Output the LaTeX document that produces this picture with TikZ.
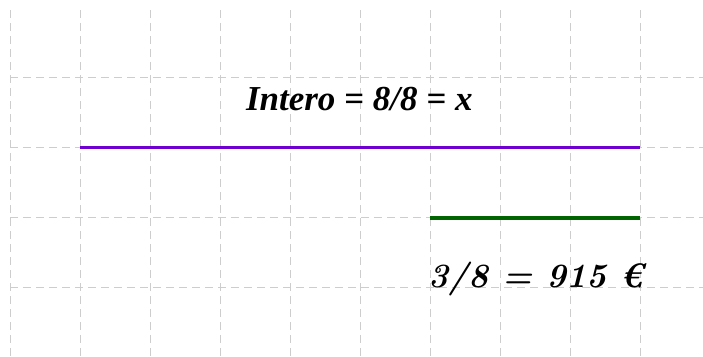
\documentclass[tikz,border=0pt]{standalone}
\usepackage{fontspec}
\newfontfamily\timesfont{Liberation Serif}
\definecolor{gridgray}{RGB}{205,205,205}
\definecolor{segpurple}{RGB}{112,0,208}
\definecolor{seggreen}{RGB}{0,100,0}
\begin{document}
\begin{tikzpicture}[x=1pt,y=-1pt,
  gridline/.style={gridgray,line width=1pt,dash pattern=on 8pt off 5pt},
  seg/.style={line width=3.5pt},
  lbl/.style={inner sep=0pt,outer sep=0pt}]
\useasboundingbox (0,0) rectangle (703,356);
\foreach \x in {10,80,...,640} \draw[gridline] (\x,10) -- (\x,356);
\foreach \y in {77.5,147.5,217.5,287.5} \draw[gridline] (10,\y) -- (703,\y);
\coordinate (a) at (80,147.5);
\coordinate (b) at (640,147.5);
\coordinate (c) at (430,217.5);
\coordinate (d) at (640,217.5);
\draw[seg,segpurple] (a) -- (b);
\draw[seg,seggreen,line width=4pt] (c) -- (d);
\node[lbl,anchor=base west,font=\timesfont\bfseries\itshape\fontsize{35}{38}\selectfont] (t1) at (246,110) {Intero = 8/8 = x};
\node[lbl,anchor=base west,font=\bfseries\itshape\fontsize{34}{38}\selectfont] (t2) at (428,287.5) {3/8 = 915 €};
\end{tikzpicture}
\end{document}
